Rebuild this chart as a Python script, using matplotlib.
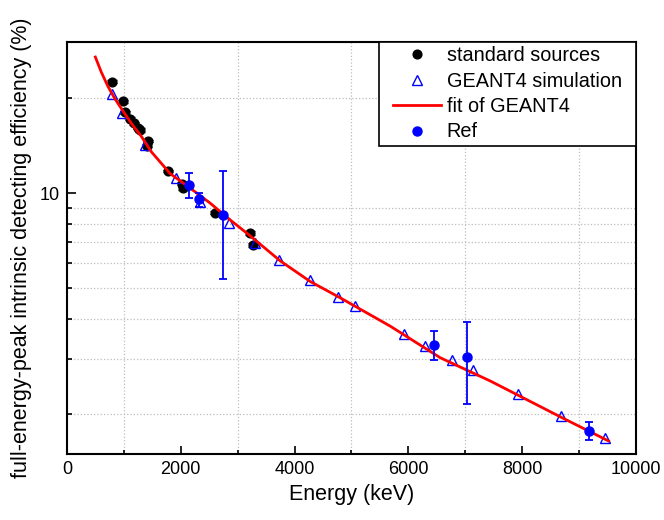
import matplotlib
matplotlib.use("Agg")
import matplotlib.pyplot as plt
from matplotlib.ticker import LogLocator, NullFormatter, FixedLocator, FixedFormatter, MultipleLocator

plt.rcParams['font.family'] = ['Liberation Sans', 'DejaVu Sans']

# standard sources (keV, %)
std_e = [792, 980, 1020, 1108, 1178, 1250, 1284, 1408, 1420, 1782, 2018, 2040, 2603, 3219, 3267]
std_eff = [22.5, 19.5, 18.0, 17.2, 16.6, 16.1, 15.8, 14.1, 14.6, 11.75, 10.7, 10.37, 8.67, 7.50, 6.86]
std_err = [0.25, 0.2, 0.2, 0.2, 0.2, 0.2, 0.2, 0.15, 0.15, 0.12, 0.12, 0.12, 0.1, 0.1, 0.1]

# GEANT4 simulation
sim_e = [786, 973, 1363, 1917, 2340, 2841, 3307, 3734, 4274, 4755, 5066,
         5916, 6297, 6767, 7136, 7921, 8684, 9464]
sim_eff = [20.6, 17.9, 14.2, 11.2, 9.40, 8.06, 6.96, 6.16, 5.33, 4.70, 4.39,
           3.58, 3.30, 2.97, 2.76, 2.32, 1.98, 1.69]

# fit of GEANT4
fit_e = [498, 603, 721, 839, 955, 1131, 1307, 1483, 1812, 2164, 2515, 2867, 3219, 3747,
         4274, 4802, 5682, 6561, 7441, 8684, 9516]
fit_eff = [26.9, 24.1, 21.7, 19.9, 18.5, 16.6, 15.1, 13.5, 11.53, 10.37, 9.30, 8.23, 7.33, 6.11,
           5.26, 4.67, 3.80, 3.02, 2.55, 1.96, 1.65]

# Ref
ref_e = [2152, 2327, 2735, 6450, 7031, 9177]
ref_eff = [10.6, 9.55, 8.55, 3.32, 3.04, 1.776]
ref_err = [0.97, 0.48, 3.18, 0.35, 0.88, 0.12]

fig = plt.figure(figsize=(6.64, 5.2), dpi=100)
ax = fig.add_axes([0.1009, 0.1269, 0.8569, 0.7923])

std = ax.errorbar(std_e, std_eff, yerr=std_err, fmt='o', color='black', ms=6.3,
                  capsize=3.3, elinewidth=1, zorder=3)
sim, = ax.plot(sim_e, sim_eff, '^', ms=6.5, mfc='none', mec='blue', mew=1, zorder=4)
fit, = ax.plot(fit_e, fit_eff, '-', color='red', lw=2, zorder=5)
ref = ax.errorbar(ref_e, ref_eff, yerr=ref_err, fmt='o', color='blue', ms=6.5,
                  capsize=3, elinewidth=1.3, capthick=1.3, zorder=6)

ax.set_yscale('log')
ax.set_xlim(0, 10000)
ax.set_ylim(1.5, 30)

ax.xaxis.set_major_locator(MultipleLocator(2000))
ax.xaxis.set_minor_locator(MultipleLocator(1000))
ax.yaxis.set_major_locator(FixedLocator([10]))
ax.yaxis.set_major_formatter(FixedFormatter(['10']))
ax.yaxis.set_minor_locator(LogLocator(base=10, subs=range(2, 10)))
ax.yaxis.set_minor_formatter(NullFormatter())

ax.tick_params(axis='both', which='both', direction='in', labelsize=13,
               top=False, right=False, color='black')
ax.tick_params(axis='x', which='major', length=5.5, width=1.2, pad=5)
ax.tick_params(axis='x', which='minor', length=2.7, width=1.2)
ax.tick_params(axis='y', which='major', length=6.8, width=1.2, pad=5)
ax.tick_params(axis='y', which='minor', length=3.6, width=1.2)

ax.grid(which='minor', linestyle=':', color='#bdbdbd', linewidth=0.9)
ax.grid(which='major', visible=False)
ax.set_axisbelow(True)

for s in ax.spines.values():
    s.set_linewidth(1.5)

ax.set_xlabel('Energy (keV)', fontsize=15.5, labelpad=4)
ax.set_ylabel('full-energy-peak intrinsic detecting efficiency (%)', fontsize=15.5, labelpad=6)

# legend: extra side padding on the frame only, flush to the top-right corner
side_pad = 0.5
leg = ax.legend([std[0], sim, fit, ref[0]],
                ['standard sources', 'GEANT4 simulation', 'fit of GEANT4', 'Ref'],
                loc='upper right', bbox_to_anchor=(1 - 0.017, 1),
                fontsize=14.3, frameon=True, fancybox=False,
                borderaxespad=0, edgecolor='black', framealpha=1,
                handlelength=2.4, handletextpad=0.3, labelspacing=0.32,
                borderpad=0.22, numpoints=1)
leg.legendPatch.set_boxstyle('square', pad=side_pad)
leg.legendPatch.set_mutation_aspect(0.001)
leg.get_frame().set_linewidth(1.2)

fig.savefig('out.png', dpi=100)
